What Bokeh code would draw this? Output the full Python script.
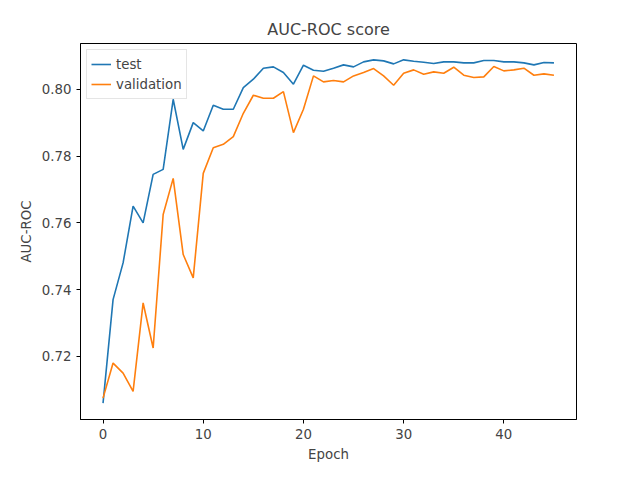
from bokeh.plotting import figure
from bokeh.models import Range1d, SingleIntervalTicker, NumeralTickFormatter
from bokeh.embed import file_html
from bokeh.resources import INLINE

epochs = list(range(46))
test = [0.706, 0.737, 0.748, 0.765, 0.760, 0.7745, 0.776, 0.797, 0.782, 0.790,
        0.7875, 0.7952, 0.794, 0.794, 0.8005, 0.803, 0.8063, 0.8067, 0.805, 0.8015,
        0.8072, 0.8057, 0.8054, 0.8063, 0.8073, 0.8067, 0.8082, 0.8088, 0.8085, 0.8076,
        0.8088, 0.8084, 0.8081, 0.8077, 0.8082, 0.8082, 0.8079, 0.8079, 0.8086, 0.8086,
        0.8082, 0.8082, 0.8079, 0.8073, 0.808, 0.8079]
validation = [0.7075, 0.718, 0.715, 0.7095, 0.736, 0.7225, 0.7625, 0.7733, 0.7505, 0.7435,
              0.7748, 0.7825, 0.7835, 0.7858, 0.7928, 0.7982, 0.7973, 0.7973, 0.7993, 0.787,
              0.794, 0.804, 0.8022, 0.8026, 0.8022, 0.804, 0.805, 0.8062, 0.804, 0.8012,
              0.8048, 0.8058, 0.8045, 0.8052, 0.8048, 0.8066, 0.8042, 0.8035, 0.8037, 0.8068,
              0.8055, 0.8058, 0.8063, 0.8042, 0.8046, 0.8042]

p = figure(width=624, height=464, output_backend="svg", toolbar_location=None,
           title="AUC-ROC score", x_axis_label="Epoch", y_axis_label="AUC-ROC",
           min_border_left=80, min_border_right=48, min_border_top=43, min_border_bottom=38)
p.x_range = Range1d(-2.25, 47.25)
p.y_range = Range1d(0.7011, 0.8137)
p.title.align = "center"
p.title.text_font_size = "12pt"
p.title.text_font_style = "normal"
p.title.text_font = "DejaVu Sans"
p.grid.visible = False
p.outline_line_color = "black"
p.xaxis.ticker = SingleIntervalTicker(interval=10)
p.yaxis.ticker = SingleIntervalTicker(interval=0.02)
p.yaxis.formatter = NumeralTickFormatter(format="0.00")
for ax in (p.xaxis[0], p.yaxis[0]):
    ax.minor_tick_line_color = None
    ax.major_label_text_font = "DejaVu Sans"
    ax.axis_label_text_font = "DejaVu Sans"
    ax.major_label_text_font_size = "10pt"
    ax.axis_label_text_font_size = "10pt"
    ax.axis_label_text_font_style = "normal"
    ax.major_tick_out = 4
    ax.major_tick_in = 0

p.line(epochs, test, line_color="#1f77b4", line_width=1.6, legend_label="test")
p.line(epochs, validation, line_color="#ff7f0e", line_width=1.6, legend_label="validation")
p.legend.location = "top_left"
p.legend.label_text_font = "DejaVu Sans"
p.legend.label_text_font_size = "10pt"
p.legend.border_line_color = "#cccccc"
p.legend.padding = 4
p.legend.spacing = 0
p.legend.margin = 6

open("out.html", "w").write(file_html(p, INLINE))
